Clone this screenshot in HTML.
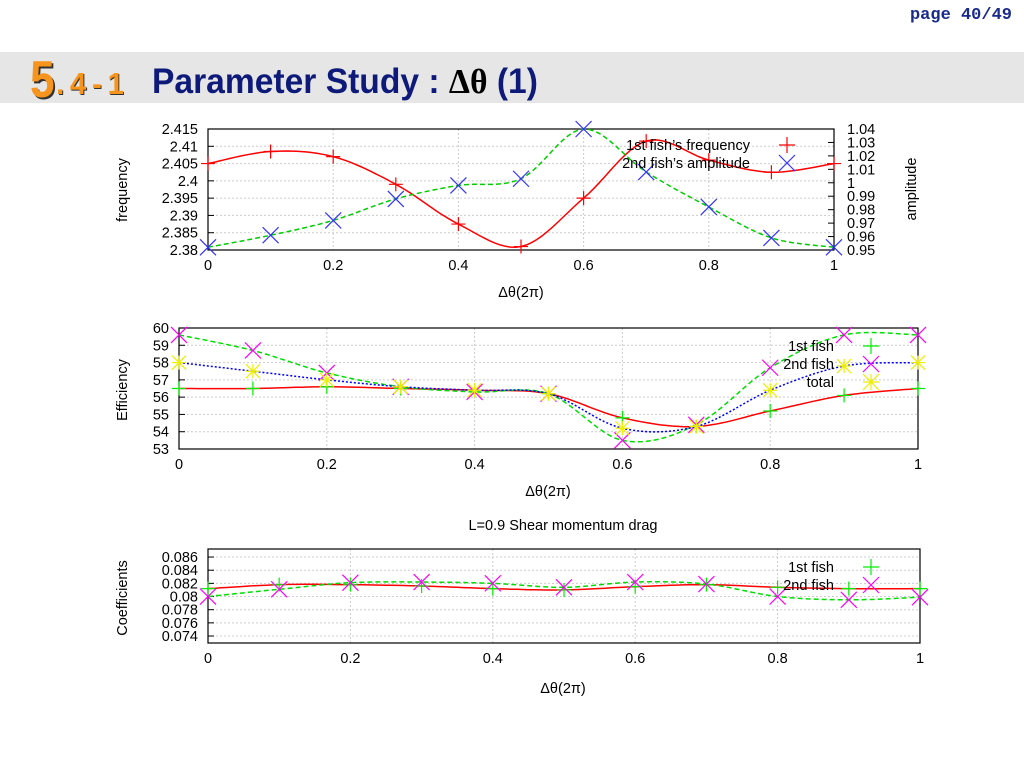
<!DOCTYPE html>
<html><head><meta charset="utf-8"><style>
body{margin:0;width:1024px;height:768px;background:#fff;overflow:hidden;font-family:"Liberation Sans",sans-serif;position:relative}
#band{position:absolute;left:0;top:52px;width:1024px;height:51px;background:#e6e6e6}
.tt{position:absolute;font-weight:bold;white-space:nowrap;transform-origin:left top}
#t5{left:30px;top:50px;color:#f7941d;font-size:52px;text-shadow:2px 2px 0 #333;transform:scaleX(0.85)}
#t41{left:56px;top:66px;color:#f7941d;font-size:31px;letter-spacing:6px;text-shadow:1px 1px 0 #333;transform:scaleX(0.95)}
#tmain{left:152px;top:62px;color:#0d1a7a;font-size:35px;transform:scaleX(0.96)}
#page{position:absolute;right:12px;top:6px;color:#1a2a8a;font-family:"Liberation Mono",monospace;font-weight:bold;font-size:17px}
svg{position:absolute;left:0;top:0}
text{font-family:"Liberation Sans",sans-serif;font-size:14.5px;fill:#000}
</style></head><body>
<div id="band"></div>
<div id="t5" class="tt">5</div>
<div id="t41" class="tt">.4-1</div>
<div id="tmain" class="tt">Parameter Study : <span style="color:#000;font-family:'Liberation Serif',serif">Δθ</span> (1)</div>
<div id="page">page 40/49</div>
<svg id="svg" width="1024" height="768"></svg>
<script>
const xs=[0,0.1,0.2,0.3,0.4,0.5,0.6,0.7,0.8,0.9,1];
const freq1=[2.405,2.4085,2.407,2.399,2.3875,2.381,2.395,2.4115,2.406,2.4025,2.405];
const amp2=[0.952,0.961,0.972,0.988,0.998,1.003,1.04,1.008,0.982,0.959,0.952];
const eff1=[56.5,56.5,56.6,56.5,56.4,56.2,54.8,54.3,55.2,56.1,56.5];
const eff2=[59.6,58.7,57.4,56.6,56.3,56.2,53.5,54.4,57.7,59.6,59.6];
const effT=[58.0,57.5,57.0,56.6,56.4,56.2,54.2,54.3,56.4,57.8,58.0];
const drag1=[0.0812,0.0818,0.0818,0.0816,0.0812,0.0810,0.0815,0.0818,0.0814,0.0812,0.0812];
const drag2=[0.0800,0.0811,0.0821,0.0822,0.0820,0.0814,0.0822,0.0819,0.0800,0.0795,0.0799];
const xTicks=[0,0.2,0.4,0.6,0.8,1];
const fTicks=[2.38,2.385,2.39,2.395,2.4,2.405,2.41,2.415];
const aTicks=[0.95,0.96,0.97,0.98,0.99,1,1.01,1.02,1.03,1.04];
const eTicks=[53,54,55,56,57,58,59,60];
const cTicks=[0.074,0.076,0.078,0.08,0.082,0.084,0.086];

const svg=document.getElementById('svg');const NS='http://www.w3.org/2000/svg';
function mk(t,a,txt){const e=document.createElementNS(NS,t);for(const k in a)e.setAttribute(k,a[k]);if(txt!==undefined)e.textContent=txt;svg.appendChild(e);return e;}
function scale(d0,d1,p0,p1){return v=>p0+(v-d0)/(d1-d0)*(p1-p0);}
function smooth(X,Y,sx,sy){let s='';const n=X.length;for(let i=0;i<n-1;i++){const p0=i>0?i-1:i,p3=i+2<n?i+2:i+1;for(let k=0;k<=12;k++){const t=k/12,t2=t*t,t3=t2*t;const f=(a,b,c,d)=>0.5*(2*b+(-a+c)*t+(2*a-5*b+4*c-d)*t2+(-a+3*b-3*c+d)*t3);const x=f(X[p0],X[i],X[i+1],X[p3]),y=f(Y[p0],Y[i],Y[i+1],Y[p3]);s+=(s?'L':'M')+sx(x).toFixed(1)+','+sy(y).toFixed(1);}}return s;}
function marker(type,x,y,c,r){r=r||7;let d='';if(type==='+'||type==='*')d+=`M${x-r},${y}H${x+r}M${x},${y-r}V${y+r}`;if(type==='x'||type==='*')d+=`M${x-r},${y-r}L${x+r},${y+r}M${x-r},${y+r}L${x+r},${y-r}`;const e=mk('path',{d:d,stroke:c,'stroke-width':1.2,fill:'none'});return e;}
function frame(L,R,T,B,sx,sy,yt,fmtY,name){
 for(const v of xTicks){const x=sx(v);const g=mk('line',{x1:x,x2:x,y1:T,y2:B,stroke:'#ccc','stroke-dasharray':'2,2'});
  const t=mk('text',{x:x,y:B+20,'text-anchor':'middle'},String(v));}
 for(const v of yt){const y=sy(v);const g=mk('line',{x1:L,x2:R,y1:y,y2:y,stroke:'#ccc','stroke-dasharray':'2,2'});
  mk('line',{x1:L,x2:L+6,y1:y,y2:y,stroke:'#000'});
  const t=mk('text',{x:L-10,y:y+5,'text-anchor':'end'},fmtY(v));}
 const r=mk('rect',{x:L,y:T,width:R-L,height:B-T,fill:'none',stroke:'#000','stroke-width':1.2});
}
function series(X,Y,sx,sy,col,dash,mtype,mcol,name){const p=mk('path',{d:smooth(X,Y,sx,sy),stroke:col,'stroke-width':1.5,fill:'none','stroke-dasharray':dash});
 for(let i=0;i<X.length;i++){const m=marker(mtype,sx(X[i]),sy(Y[i]),mcol,mtype==='x'?8:7);}}
function label(x,y,txt,rot,name){const a={x:x,y:y,'text-anchor':'middle'};if(rot)a.transform=`rotate(-90 ${x} ${y})`;const t=mk('text',a,txt);}
function legend(x,y,txt,type,c,mx,name){const t=mk('text',{x:x,y:y+5,'text-anchor':'end'},txt);const m=marker(type,mx,y,c,8);}

// Chart 1
{const L=208,R=834,T=129,B=250;const sx=scale(0,1,L,R),sy=scale(2.38,2.415,B,T),sa=scale(0.95,1.04,B,T);
 frame(L,R,T,B,sx,sy,fTicks,v=>String(+v.toFixed(3)),'frequency-plot-frame');
 for(const v of aTicks){const y=sa(v);mk('line',{x1:R-6,x2:R,y1:y,y2:y,stroke:'#000'});const t=mk('text',{x:R+13,y:y+5},String(+v.toFixed(2)));}
 series(xs,freq1,sx,sy,'#f00','','+','#f00','freq-1st');
 series(xs,amp2,sx,sa,'#0c0','5,3','x','#33f','amp-2nd');
 legend(750,145,"1st fish’s frequency",'+','#f00',787,'legend-freq');
 legend(750,163,"2nd fish’s amplitude",'x','#33f',787,'legend-amp');
 label(127,190,'frequency',true,'y-axis-title');label(916,189,'amplitude',true,'y2-axis-title');label(521,297,'Δθ(2π)',false,'x-axis-title');}
// Chart 2
{const L=179,R=918,T=328,B=449;const sx=scale(0,1,L,R),sy=scale(53,60,B,T);
 frame(L,R,T,B,sx,sy,eTicks,v=>String(v),'efficiency-plot-frame');
 series(xs,eff1,sx,sy,'#f00','','+','#0e0','eff-1st');
 series(xs,eff2,sx,sy,'#0d0','5,3','x','#f0f','eff-2nd');
 series(xs,effT,sx,sy,'#00f','2,2','*','#ee0','eff-total');
 legend(834,346,'1st fish','+','#0e0',871,'legend-1st');
 legend(834,364,'2nd fish','x','#f0f',871,'legend-2nd');
 legend(834,382,'total','*','#ee0',871,'legend-total');
 label(127,390,'Efficiency',true,'y-axis-title');label(548,496,'Δθ(2π)',false,'x-axis-title');}
// Chart 3
{const L=208,R=920,T=549,B=643;const sx=scale(0,1,L,R),sy=scale(0.07294,0.08722,B,T);
 frame(L,R,T,B,sx,sy,cTicks,v=>String(+v.toFixed(3)),'drag-plot-frame');
 series(xs,drag1,sx,sy,'#f00','','+','#0e0','drag-1st');
 series(xs,drag2,sx,sy,'#0d0','5,3','x','#f0f','drag-2nd');
 legend(834,567,'1st fish','+','#0e0',871,'legend-1st');
 legend(834,585,'2nd fish','x','#f0f',871,'legend-2nd');
 label(563,530,'L=0.9  Shear momentum drag',false,'chart-title');
 label(127,598,'Coefficients',true,'y-axis-title');label(563,693,'Δθ(2π)',false,'x-axis-title');}
</script>
</body></html>
